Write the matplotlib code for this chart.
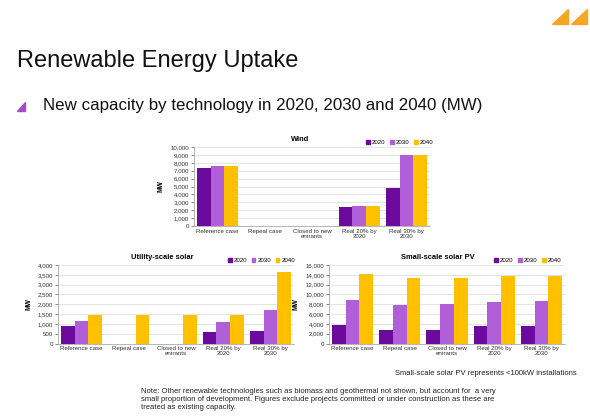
import numpy as np
import matplotlib
matplotlib.use("Agg")
import matplotlib.pyplot as plt
from matplotlib.patches import Polygon
from matplotlib.ticker import FuncFormatter

plt.rcParams['font.family'] = ['Liberation Sans', 'DejaVu Sans']

# --- data (MW) ---
categories = ["Reference case", "Repeal case", "Closed to new\nentrants",
              "Real 20% by\n2020", "Real 30% by\n2030"]
years = ["2020", "2030", "2040"]

wind_2020 = [7300, 0, 0, 2450, 4800]
wind_2030 = [7550, 0, 0, 2570, 8950]
wind_2040 = [7550, 0, 0, 2570, 8950]

utility_2020 = [870, 0, 0, 600, 650]
utility_2030 = [1150, 0, 0, 1090, 1720]
utility_2040 = [1450, 1450, 1450, 1450, 3650]

small_2020 = [3680, 2740, 2740, 3480, 3610]
small_2030 = [8830, 7900, 7960, 8430, 8700]
small_2040 = [14120, 13320, 13450, 13850, 13850]

colors = ['#6b0a9c', '#b05fd8', '#ffc000']

fig = plt.figure(figsize=(5.9, 4.18), dpi=100)
W, H = 590, 418


def ax_at(x0, y0, x1, y1):
    # pixel box -> figure fraction
    return fig.add_axes([x0 / W, 1 - y1 / H, (x1 - x0) / W, (y1 - y0) / H])


def bar_panel(ax, series, ymax, step, title, title_x, leg_x):
    x = np.arange(len(categories))
    w = 0.29
    for i, vals in enumerate(series):
        ax.bar(x + (i - 1) * w, vals, w, color=colors[i], zorder=3)
    ax.set_xlim(-0.5, len(categories) - 0.5)
    ax.set_ylim(0, ymax)
    ax.set_yticks(np.arange(0, ymax + 1, step))
    ax.yaxis.set_major_formatter(FuncFormatter(lambda v, p: f"{int(v):,}"))
    ax.set_xticks(x)
    ax.set_xticklabels(categories, fontsize=4.4, color='#333333', linespacing=1.0)
    ax.tick_params(axis='y', labelsize=4.4, colors='#333333', length=2, width=0.4, pad=1.5)
    ax.tick_params(axis='x', length=0, pad=2)
    ax.grid(axis='y', color='#d9d9d9', linewidth=0.5, zorder=0)
    for s in ['top', 'right']:
        ax.spines[s].set_visible(False)
    for s in ['left', 'bottom']:
        ax.spines[s].set_color('#999999')
        ax.spines[s].set_linewidth(0.5)
    ax.set_ylabel("MW", fontsize=4.8, fontweight='bold', labelpad=4)
    ax.text(title_x, 1.05, title, transform=ax.transAxes, ha='center',
            va='bottom', fontsize=5.4, fontweight='bold')
    handles = [plt.Rectangle((0, 0), 1, 1, color=c) for c in colors]
    ax.legend(handles, years, loc='lower left', bbox_to_anchor=(leg_x, 1.02),
              ncol=3, frameon=False, fontsize=4.4, handlelength=0.6,
              handleheight=0.6, handletextpad=0.3, columnspacing=0.8,
              borderaxespad=0, borderpad=0)


ax1 = ax_at(194, 147, 430, 226)
bar_panel(ax1, [wind_2020, wind_2030, wind_2040], 10000, 1000, "Wind", 0.45, 0.73)

ax2 = ax_at(58, 265, 294, 343.5)
bar_panel(ax2, [utility_2020, utility_2030, utility_2040], 4000, 500,
          "Utility-scale solar", 0.44, 0.72)

ax3 = ax_at(329, 265, 565, 343.5)
bar_panel(ax3, [small_2020, small_2030, small_2040], 16000, 2000,
          "Small-scale solar PV", 0.46, 0.70)

# slide text
fig.text(17 / W, 1 - 67 / H, "Renewable Energy Uptake", fontsize=17,
         va='baseline', ha='left', color='#111111')
fig.text(43 / W, 1 - 110 / H, "New capacity by technology in 2020, 2030 and 2040 (MW)",
         fontsize=12.2, va='baseline', ha='left', color='#111111')
fig.text(577 / W, 1 - 375 / H, "Small-scale solar PV represents <100kW installations",
         fontsize=5.5, ha='right', va='baseline', color='#222222')
fig.text(141 / W, 1 - 388 / H,
         "Note: Other renewable technologies such as biomass and geothermal not shown, but account for  a very\n"
         "small proportion of development. Figures exclude projects committed or under construction as these are\n"
         "treated as existing capacity.",
         fontsize=5.5, ha='left', va='top', color='#222222', linespacing=1.2)

# bullet and corner marks
fig.patches.append(Polygon([(17 / W, 1 - 111 / H), (25 / W, 1 - 111 / H), (25 / W, 1 - 102 / H)],
                           closed=True, transform=fig.transFigure, color='#a64ac9'))
for dx in (0, 19):
    fig.patches.append(Polygon([((552 + dx) / W, 1 - 24 / H), ((568 + dx) / W, 1 - 24 / H),
                                ((568 + dx) / W, 1 - 9 / H)],
                               closed=True, transform=fig.transFigure, color='#f5a623'))

fig.savefig("out.png", dpi=100)
